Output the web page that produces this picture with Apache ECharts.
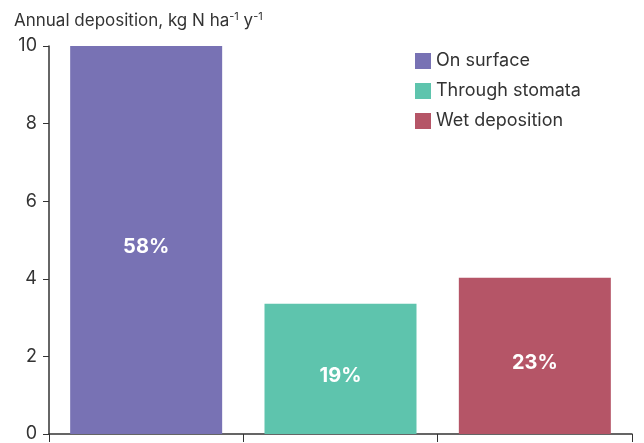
<!DOCTYPE html>
<html><head><meta charset="utf-8">
<script src="https://cdn.jsdelivr.net/npm/echarts@6/dist/echarts.min.js"></script>
<style>html,body{margin:0;padding:0;background:#fff}#c{width:644px;height:443px}</style>
</head><body><div id="c"></div>
<script>
const categories = ['On surface', 'Through stomata', 'Wet deposition'];
const values = [10.0, 3.36, 4.03];
const shares = ['58%', '19%', '23%'];
const colors = ['#7872b4', '#5ec4ad', '#b55567'];
const yTicks = [0, 2, 4, 6, 8, 10];

const font = 'Inter, "Noto Sans", sans-serif';
const series = categories.map((name, i) => ({
  name,
  type: 'bar',
  barWidth: 152,
  barGap: '-100%',
  itemStyle: { color: colors[i] },
  label: {
    show: true, position: 'inside', offset: [0, 7],
    formatter: () => shares[i],
    color: '#fff', fontSize: 20, fontWeight: 'bold', fontFamily: font
  },
  data: values.map((v, j) => (j === i ? v : '-'))
}));

const chart = echarts.init(document.getElementById('c'), null, { renderer: 'canvas' });
chart.setOption({
  animation: false,
  textStyle: { fontFamily: font },
  grid: { left: 49, right: 12, top: 46, bottom: 9, containLabel: false },
  title: {
    text: 'Annual deposition, kg N ha{s|-1} y{s|-1}',
    left: 9, top: 6,
    textStyle: {
      fontSize: 17, fontWeight: 'normal', color: '#333', fontFamily: font,
      rich: { s: { fontSize: 11, verticalAlign: 'top', padding: [0, 0, 8, 0], color: '#333', fontFamily: font } }
    }
  },
  legend: {
    data: categories,
    orient: 'vertical',
    left: 410, top: 47,
    itemWidth: 16, itemHeight: 16, itemGap: 12,
    icon: 'rect',
    textStyle: { fontSize: 18, color: '#333', fontFamily: font, padding: [0, 0, 0, 0] }
  },
  xAxis: {
    type: 'category',
    data: categories,
    axisLine: { lineStyle: { color: '#333', width: 1.5 } },
    axisTick: { show: true, alignWithLabel: false, inside: false, length: 8, lineStyle: { color: '#333' } },
    axisLabel: { show: false }
  },
  yAxis: {
    type: 'value',
    min: 0, max: 10, interval: 2,
    axisLine: { show: true, lineStyle: { color: '#333', width: 1.5 } },
    axisTick: { show: true, length: 6, lineStyle: { color: '#333' } },
    splitLine: { show: false },
    axisLabel: {
      fontSize: 18, color: '#333', fontFamily: font, margin: 12,
      formatter: v => (yTicks.includes(v) ? String(v) : '')
    }
  },
  series
});
</script></body></html>
